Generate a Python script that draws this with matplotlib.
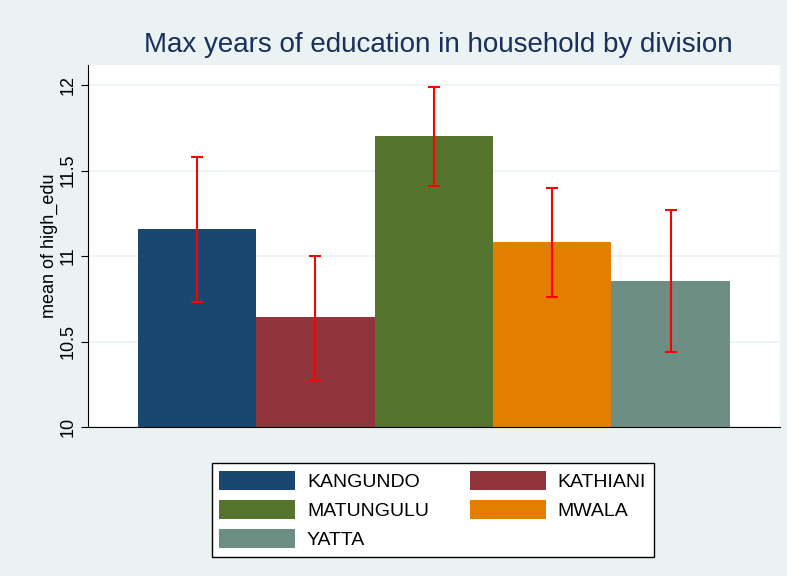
import matplotlib.pyplot as plt
from matplotlib.patches import Patch

plt.rcParams["font.family"] = ["Liberation Sans", "DejaVu Sans"]

divisions = ["KANGUNDO", "KATHIANI", "MATUNGULU", "MWALA", "YATTA"]
means = [11.158, 10.643, 11.702, 11.082, 10.854]
ci_low = [10.731, 10.275, 11.409, 10.760, 10.439]
ci_high = [11.579, 11.000, 11.988, 11.398, 11.269]
colors = ["#1A476F", "#90353B", "#55752F", "#E37E00", "#6E8E84"]
y_ticks = [10, 10.5, 11, 11.5, 12]
y_tick_labels = ["10", "10.5", "11", "11.5", "12"]

bg = "#EAF2F3"
fig = plt.figure(figsize=(7.87, 5.76), dpi=100, facecolor=bg)
ax = fig.add_axes([0.1118, 0.2587, 0.879, 0.6283])
ax.set_facecolor("white")

x = list(range(len(divisions)))
ax.bar(x, [m - 10 for m in means], bottom=10, width=1.0, color=colors, zorder=2)
err_lo = [m - lo for m, lo in zip(means, ci_low)]
err_hi = [hi - m for m, hi in zip(means, ci_high)]
ax.errorbar(x, means, yerr=[err_lo, err_hi], fmt="none", ecolor="red",
            elinewidth=1.5, capsize=4, capthick=1.5, zorder=3)

ax.set_xlim(-0.922, 4.922)
ax.set_ylim(10, 12.117)
ax.set_yticks(y_ticks)
ax.set_yticklabels(y_tick_labels, rotation=90, va="center", fontsize=13)
ax.set_xticks([])
ax.grid(axis="y", color=bg, linewidth=1.2, zorder=0)
ax.set_axisbelow(True)
for side in ["top", "right"]:
    ax.spines[side].set_visible(False)
ax.spines["left"].set_color("black")
ax.spines["bottom"].set_color("black")
ax.tick_params(axis="y", length=5, color="black")
ax.set_ylabel("mean of high_edu", fontsize=13, labelpad=1)

fig.text(0.557, 0.922, "Max years of education in household by division",
         ha="center", va="center", fontsize=20, color="#1A2F5A")

# legend fills by column, so reorder to get row-wise layout like the original
handles = [Patch(facecolor=c, label=d) for c, d in zip(colors, divisions)]
order = [0, 2, 4, 1, 3]
leg = fig.legend(handles=[handles[i] for i in order], ncol=2, loc="upper left",
                 bbox_to_anchor=(0.269, 0.035, 0.562, 0.161), mode="expand",
                 fontsize=14, handlelength=3.9, handleheight=1.15,
                 frameon=True, fancybox=False, edgecolor="black",
                 facecolor="white", framealpha=1.0,
                 borderaxespad=0, labelspacing=0.45, columnspacing=2.0,
                 handletextpad=0.6, borderpad=0.4)
leg.get_frame().set_linewidth(1.0)

fig.savefig("out.png", dpi=100, facecolor=bg)
